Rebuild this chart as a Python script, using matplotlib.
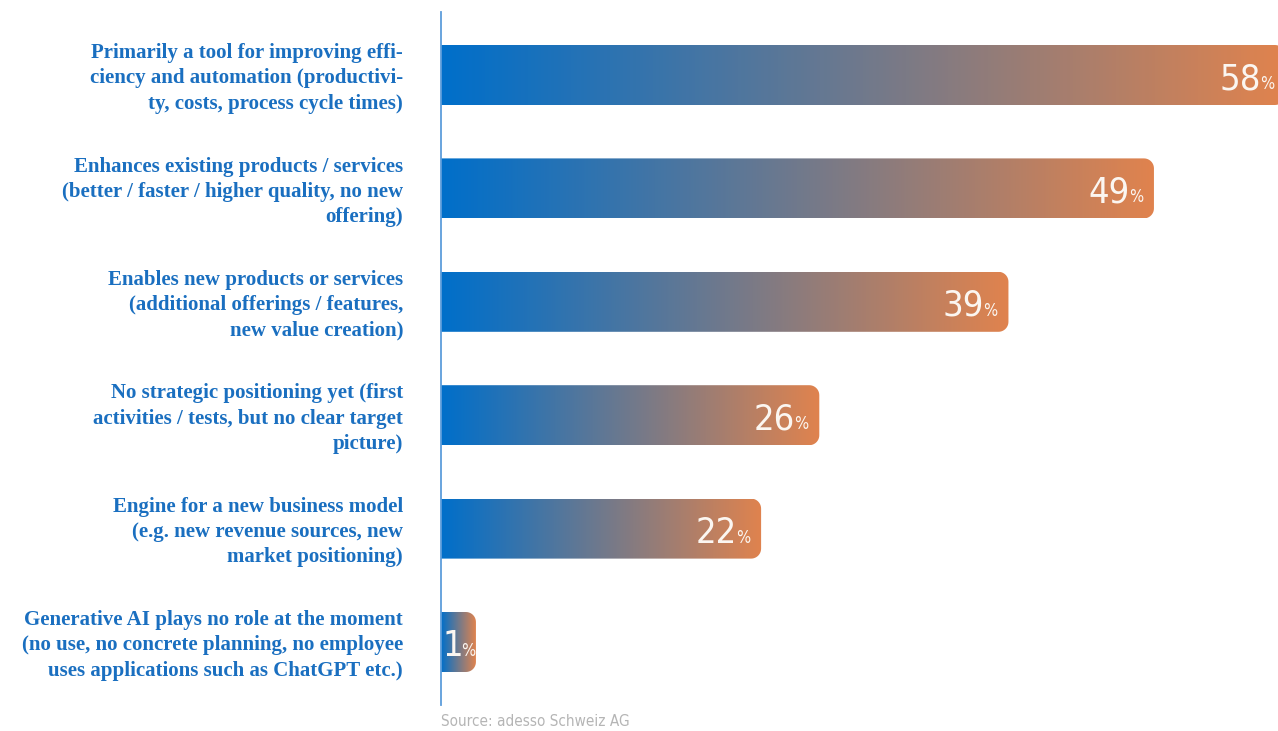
import numpy as np
import matplotlib
matplotlib.use("Agg")
import matplotlib.pyplot as plt
from matplotlib import font_manager as fm
from matplotlib.path import Path
from matplotlib.patches import PathPatch
from matplotlib.colors import LinearSegmentedColormap

# Survey answers, top to bottom
categories = [
    "Primarily a tool for improving effi-\nciency and automation (productivi-\nty, costs, process cycle times)",
    "Enhances existing products / services\n(better / faster / higher quality, no new\noffering)",
    "Enables new products or services\n(additional offerings / features,\nnew value creation)",
    "No strategic positioning yet (first\nactivities / tests, but no clear target\npicture)",
    "Engine for a new business model\n(e.g. new revenue sources, new\nmarket positioning)",
    "Generative AI plays no role at the moment\n(no use, no concrete planning, no employee\nuses applications such as ChatGPT etc.)",
]
values = [58, 49, 39, 26, 22, 1]
source = "Source: adesso Schweiz AG"


def narrow_font():
    """Pick a condensed sans face for the figures, if one is installed."""
    cands = []
    for f in fm.fontManager.ttflist:
        narrow = ("Condensed" in f.name or "Narrow" in f.name
                  or str(f.stretch) in ("condensed", "semi-condensed",
                                         "extra-condensed", "ultra-condensed"))
        if narrow and "Italic" not in f.fname and "Oblique" not in f.fname \
                and f.style == "normal":
            w = f.weight if isinstance(f.weight, int) else 400
            cands.append((abs(w - 350), f.fname))
    if cands:
        cands.sort()
        return fm.FontProperties(fname=cands[0][1])
    return fm.FontProperties(family=["Roboto", "DejaVu Sans"], weight="light")


W, H = 1278, 731
DPI = 100
fig = plt.figure(figsize=(W / DPI, H / DPI), dpi=DPI)
fig.patch.set_facecolor("white")

ax_left, ax_right, ax_top, ax_bottom = 441, 1278, 12, 705
ax = fig.add_axes([ax_left / W, (H - ax_bottom) / H,
                   (ax_right - ax_left) / W, (ax_bottom - ax_top) / H])

px_per_unit_x = 14.55
row_px = 113.4
first_center = 75
xmax = (ax_right - ax_left) / px_per_unit_x
ymin = -(first_center - ax_top) / row_px
ymax = (len(values) - 1) + (ax_bottom - (first_center + row_px * (len(values) - 1))) / row_px
ax.set_xlim(0, xmax)
ax.set_ylim(ymax, ymin)

for s in ["top", "right", "bottom"]:
    ax.spines[s].set_visible(False)
ax.spines["left"].set_color("#5d9ddb")
ax.spines["left"].set_linewidth(1.3)
ax.set_xticks([])
ax.set_yticks([])
ax.patch.set_alpha(0)

cmap = LinearSegmentedColormap.from_list("bar", ["#006fca", "#e0834e"])
grad = np.linspace(0, 1, 256).reshape(1, -1)

bar_h = 60 / row_px
rx = 10 / px_per_unit_x
ry = 10 / row_px
min_w = 2.4


def right_rounded(x0, x1, y0, y1):
    # rectangle with square left edge and rounded right corners
    verts = [(x0, y0), (x1 - rx, y0)]
    for t in np.linspace(-np.pi / 2, 0, 12):
        verts.append((x1 - rx + rx * np.cos(t), y0 + ry + ry * np.sin(t)))
    for t in np.linspace(0, np.pi / 2, 12):
        verts.append((x1 - rx + rx * np.cos(t), y1 - ry + ry * np.sin(t)))
    verts += [(x0, y1), (x0, y0)]
    codes = [Path.MOVETO] + [Path.LINETO] * (len(verts) - 2) + [Path.CLOSEPOLY]
    return Path(verts, codes)


label_font = ["Liberation Serif", "DejaVu Serif"]
num_fp = narrow_font()
big_fp = num_fp.copy()
big_fp.set_size(26)
small_fp = num_fp.copy()
small_fp.set_size(12)
src_fp = num_fp.copy()
src_fp.set_size(11)

pt = 72 / DPI            # points per pixel
end_pad = 10             # px between percent sign and bar end
tight_pad = 2            # px used when the bar is too short for the label
min_left = 1             # px kept free after the axis line
base_off = -14 * pt

bars = []
for i, (cat, v) in enumerate(zip(categories, values)):
    w = max(v, min_w)
    y0, y1 = i - bar_h / 2, i + bar_h / 2
    patch = PathPatch(right_rounded(0, w, y0, y1), facecolor="none", edgecolor="none")
    ax.add_patch(patch)
    im = ax.imshow(grad, cmap=cmap, aspect="auto", extent=(0, w, y1, y0),
                   interpolation="bilinear", zorder=2)
    im.set_clip_path(patch)

    # category label
    ax.annotate(cat, xy=(0, i), xycoords=("axes fraction", "data"),
                xytext=(-38 * pt, -2.5), textcoords="offset points",
                ha="right", va="center", ma="right",
                fontsize=15, fontweight="bold", family=label_font,
                color="#1a6fc0", linespacing=1.35)

    # value label: big number and small percent sign on a shared baseline
    num = ax.annotate(str(v), xy=(w, i), xycoords="data",
                      xytext=(0, base_off), textcoords="offset points",
                      ha="left", va="baseline", fontproperties=big_fp,
                      color="#fbf6f1", zorder=5, annotation_clip=False)
    pct = ax.annotate("%", xy=(w, i), xycoords="data",
                      xytext=(0, base_off), textcoords="offset points",
                      ha="left", va="baseline", fontproperties=small_fp,
                      color="#fbf6f1", zorder=5, annotation_clip=False)
    bars.append((num, pct, w))

fig.canvas.draw()
renderer = fig.canvas.get_renderer()
for num, pct, w in bars:
    nw = num.get_window_extent(renderer).width
    pw = pct.get_window_extent(renderer).width
    bar_len = w * px_per_unit_x
    left = bar_len - end_pad - nw - pw
    if left < min_left:
        left = max(bar_len - tight_pad - nw - pw, min_left)
    shift = left - bar_len
    num.xyann = (shift * pt, base_off)
    pct.xyann = ((shift + nw - 1) * pt, base_off)

fig.text(ax_left / W, 1 - 722 / H, source, ha="left", va="center",
         fontproperties=src_fp, color="#b5b5b5")

fig.savefig("out.png", dpi=DPI)
